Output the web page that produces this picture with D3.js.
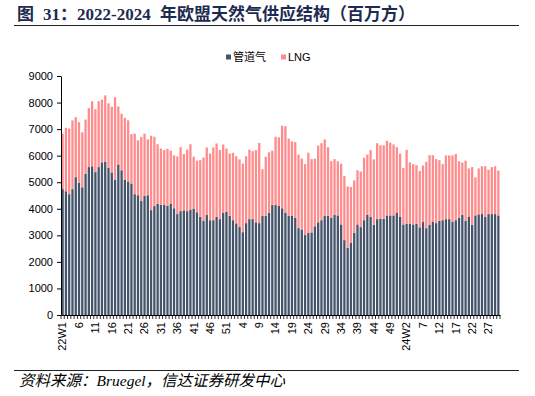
<!DOCTYPE html>
<html><head><meta charset="utf-8">
<script src="https://cdn.jsdelivr.net/npm/d3@7"></script>
<style>body{margin:0;background:#fff;} svg{display:block;}</style>
</head><body><svg id="c" width="535" height="396"></svg>
<script>
// 管道气 (pipeline) weekly supply, million m3
const pipeline = [4740,4660,4550,4740,5190,4980,4810,5320,5570,5600,5380,5570,5750,5780,5550,5370,5100,5670,5450,5100,
5030,4950,4550,4510,4290,4480,4510,3950,4100,4180,4150,4150,4110,4180,4020,3800,3910,3940,3910,3970,
4010,3870,3700,3540,3770,3570,3570,3700,3610,3840,3890,3740,3570,3450,3310,3120,3460,3610,3610,3490,
3460,3740,3740,3840,4140,4140,4110,4020,3860,3740,3740,3660,3270,3220,3010,3100,3110,3340,3490,3570,
3740,3740,3660,3770,3750,3410,2820,2530,2730,3100,3410,3310,3570,3770,3700,3400,3610,3620,3620,3750,
3750,3750,3860,3690,3410,3440,3440,3410,3440,3300,3500,3270,3400,3520,3460,3550,3570,3610,3610,3520,
3570,3660,3770,3550,3690,3400,3750,3790,3800,3690,3800,3800,3800,3750];
// LNG weekly supply, million m3
const lng = [2090,2390,2470,2590,2260,2280,2070,2040,2220,2450,2370,2480,2360,2490,2420,2470,3100,2180,2130,2320,
2300,1860,2280,2070,2420,2350,2100,2800,2610,2250,2120,2060,2150,2010,1990,2170,2410,2120,2320,2460,
1950,1940,2130,2390,2540,2510,2740,2760,2600,2580,2380,2340,2540,2530,2550,2580,2520,2620,2560,2720,
3020,1750,2220,2290,2050,2570,2580,3110,3250,2900,2800,2850,2770,2670,2670,3010,2760,2550,2890,2900,
2870,2580,2130,2100,2040,2290,2420,2310,2090,1970,2040,2090,2350,2270,2510,2460,2860,2770,2770,2810,
2740,2670,2460,2390,2130,2780,2310,2270,2200,2120,2130,2500,2620,2500,2410,2280,2110,2400,2400,2490,
2490,2130,1970,2260,1830,2170,1430,1730,1800,1910,1670,1770,1800,1690];
const yearLabels = ["22","23","24"];
const weeksPerYear = [52,52,30];
const tickLabels = ["22W1","6","11","16","21","26","31","36","41","46","51","4","9","14","19","24","29","34","39","44","49","24W2","7","12","17","22","27"];
const yTicks = [0,1000,2000,3000,4000,5000,6000,7000,8000,9000];
const seriesNames = ["管道气","LNG"];
const colors = ["#44546A","#FF8C8C"];

const categories = [];
yearLabels.forEach((yl,i)=>{ for(let w=1; w<=weeksPerYear[i]; w++) categories.push(yl+"W"+w); });

const rows = categories.map((c,i)=>({cat:c, [seriesNames[0]]:pipeline[i], [seriesNames[1]]:lng[i]}));
const stacked = d3.stack().keys(seriesNames)(rows);

const svg = d3.select("#c");
const x = d3.scaleBand().domain(categories).range([61,500]).paddingInner(0.3).paddingOuter(0.15);
const y = d3.scaleLinear().domain([0,9000]).range([315,76]);
const color = d3.scaleOrdinal().domain(seriesNames).range(colors);

// Title
const title = svg.append("text").attr("y",20).attr("fill","#1c2b4f")
  .style("font-weight","bold").style("font-size","17px")
  .style("font-family","'Liberation Serif','Times New Roman','Noto Sans CJK SC',serif");
title.append("tspan").attr("x",17).text("图");
title.append("tspan").attr("x",43).text("31：");
title.append("tspan").attr("x",77).text("2022-2024");
title.append("tspan").attr("x",160).text("年欧盟天然气供应结构（百万方）");
svg.append("line").attr("x1",14).attr("x2",519).attr("y1",25.5).attr("y2",25.5)
  .attr("stroke","#222").attr("stroke-width",1);

// Bars
svg.append("g").selectAll("g").data(stacked).join("g")
  .attr("fill",d=>color(d.key))
  .selectAll("rect").data(d=>d).join("rect")
  .attr("x",d=>x(d.data.cat)).attr("width",x.bandwidth())
  .attr("y",d=>y(d[1])).attr("height",d=>y(d[0])-y(d[1]));

// Y axis
const yAxis = svg.append("g").attr("transform","translate(61,0)")
  .call(d3.axisLeft(y).tickValues(yTicks).tickFormat(d3.format("d")).tickSize(4).tickSizeOuter(0).tickPadding(4));
yAxis.selectAll("text").style("font-size","11px").style("font-family","'Liberation Sans',Arial,sans-serif").attr("fill","#000");
yAxis.selectAll("line,path").attr("stroke","#000");

// X axis
const xAxis = svg.append("g").attr("transform","translate(0,315)")
  .call(d3.axisBottom(x).tickSize(0).tickSizeOuter(0)
    .tickFormat((d,i)=> i%5===0 ? tickLabels[i/5] : ""));
xAxis.select(".domain").attr("stroke","#000");
xAxis.selectAll("text").attr("transform","rotate(-90)").attr("text-anchor","end")
  .attr("x",-7).attr("y",0).attr("dy","0.35em")
  .style("font-size","11px").style("font-family","'Liberation Sans',Arial,sans-serif").attr("fill","#000");
const step = x.step();
svg.append("g").selectAll("line").data(d3.range(categories.length+1)).join("line")
  .attr("x1",i=>x.range()[0]+i*step).attr("x2",i=>x.range()[0]+i*step)
  .attr("y1",315).attr("y2",319).attr("stroke","#000").attr("stroke-width",0.8);

// Legend
const legend = svg.append("g").style("font-size","11px")
  .style("font-family","'Liberation Sans','Noto Sans CJK SC',sans-serif");
const legX = [226,281];
seriesNames.forEach((s,i)=>{
  legend.append("rect").attr("x",legX[i]).attr("y",54.5).attr("width",5).attr("height",5).attr("fill",colors[i]);
  legend.append("text").attr("x",legX[i]+7).attr("y",61).attr("fill","#000").text(s);
});

// Footer
svg.append("line").attr("x1",14).attr("x2",519).attr("y1",370.5).attr("y2",370.5)
  .attr("stroke","#222").attr("stroke-width",1);
svg.append("text").attr("x",19).attr("y",386).attr("fill","#000")
  .style("font-size","15.5px").style("font-style","italic")
  .style("font-family","'Liberation Serif','Times New Roman','Noto Sans CJK SC',serif")
  .text("资料来源：Bruegel，信达证券研发中心");
</script></body></html>
